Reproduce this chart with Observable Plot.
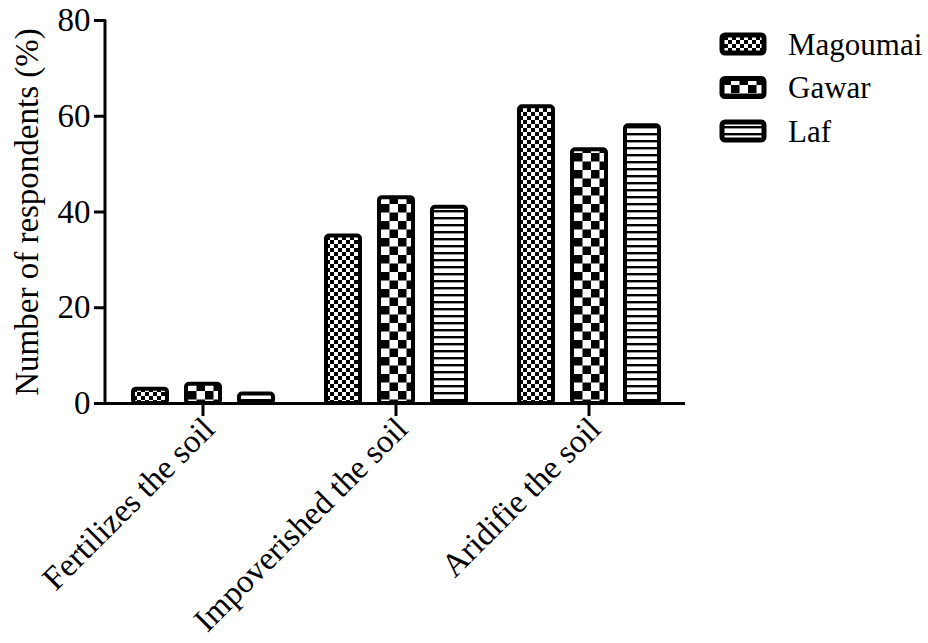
<!DOCTYPE html>
<html><head><meta charset="utf-8">
<script src="https://cdn.jsdelivr.net/npm/d3@7"></script>
<script src="https://cdn.jsdelivr.net/npm/@observablehq/plot@0.6"></script>
<style>body{margin:0;background:#fff} svg text{font-family:"Liberation Serif","DejaVu Serif",serif !important;}</style>
</head><body><div id="chart"></div>
<script>
const categories = ["Fertilizes the soil", "Impoverished the soil", "Aridifie the soil"];
const series = ["Magoumai", "Gawar", "Laf"];
const magoumai = [3, 35, 62];
const gawar = [4, 43, 53];
const laf = [2, 41, 58];
const yTicks = [0, 20, 40, 60, 80];
const patternIds = ["pat-fine", "pat-coarse", "pat-stripe"];

const values = [magoumai, gawar, laf];
const data = [];
categories.forEach((c, i) => series.forEach((s, j) => data.push({category: c, series: s, value: values[j][i]})));

const FONT = '"Liberation Serif", "DejaVu Serif", serif';
const FS = 31;
const FSA = 33;

const plot = Plot.plot({
  width: 928, height: 643,
  marginLeft: 105, marginRight: 243, marginTop: 20, marginBottom: 240,
  style: {fontFamily: FONT, fontSize: FS + "px", color: "#000", background: "#fff"},
  fx: {domain: categories, padding: 0, label: null},
  x: {domain: series, paddingInner: 0.36, paddingOuter: 0.5, axis: null},
  y: {domain: [0, 80]},
  color: {domain: series, range: patternIds.map(id => `url(#${id})`)},
  marks: [
    Plot.barY(data, {fx: "category", x: "series", y: "value", fill: "series", stroke: "#000", strokeWidth: 4, rx: 3}),
    Plot.ruleY([0], {strokeWidth: 3}),
    Plot.axisY({ticks: yTicks, tickSize: 12, tickPadding: 4, strokeWidth: 3, fontSize: FSA, label: "Number of respondents (%)", labelAnchor: "center", labelArrow: "none", labelOffset: 92}),
    Plot.axisFx({anchor: "bottom", tickSize: 13, strokeWidth: 3, label: null, text: null}),
    Plot.axisFx({anchor: "bottom", tickRotate: -45, tickSize: 0, tickPadding: 19, fontSize: FSA, label: null, dx: 6, dy: 1})
  ]
});
document.getElementById("chart").appendChild(plot);

const svg = d3.select(plot);
const defs = svg.insert("defs", ":first-child");
// fine checker
let p = defs.append("pattern").attr("id", "pat-fine").attr("patternUnits", "userSpaceOnUse").attr("width", 8).attr("height", 8);
p.append("rect").attr("width", 8).attr("height", 8).attr("fill", "#fff");
p.append("rect").attr("width", 4).attr("height", 4).attr("fill", "#000");
p.append("rect").attr("x", 4).attr("y", 4).attr("width", 4).attr("height", 4).attr("fill", "#000");
// coarse checker
p = defs.append("pattern").attr("id", "pat-coarse").attr("patternUnits", "userSpaceOnUse").attr("width", 17).attr("height", 17);
p.append("rect").attr("width", 17).attr("height", 17).attr("fill", "#fff");
p.append("rect").attr("width", 8.5).attr("height", 8.5).attr("fill", "#000");
p.append("rect").attr("x", 8.5).attr("y", 8.5).attr("width", 8.5).attr("height", 8.5).attr("fill", "#000");
// stripes
p = defs.append("pattern").attr("id", "pat-stripe").attr("patternUnits", "userSpaceOnUse").attr("width", 10).attr("height", 7);
p.append("rect").attr("width", 10).attr("height", 7).attr("fill", "#fff");
p.append("rect").attr("y", 0).attr("width", 10).attr("height", 2).attr("fill", "#000");
p.append("rect").attr("y", 2).attr("width", 10).attr("height", 1).attr("fill", "#999");

// y axis line
const ys = plot.scale("y");
svg.append("line").attr("x1", 105).attr("x2", 105).attr("y1", ys.range[0] + 1.5).attr("y2", ys.range[1])
  .attr("stroke", "#000").attr("stroke-width", 3);

// legend
const lg = svg.append("g").attr("font-family", FONT).attr("font-size", FS).attr("text-anchor", "start");
series.forEach((s, i) => {
  const cy = 44 + i * 43.5;
  lg.append("rect").attr("x", 722).attr("y", cy - 9).attr("width", 42).attr("height", 18).attr("rx", 3)
    .attr("fill", `url(#${patternIds[i]})`).attr("stroke", "#000").attr("stroke-width", 5);
  lg.append("text").attr("x", 788).attr("y", cy).attr("dy", "0.35em").text(s);
});
</script>
</body></html>
